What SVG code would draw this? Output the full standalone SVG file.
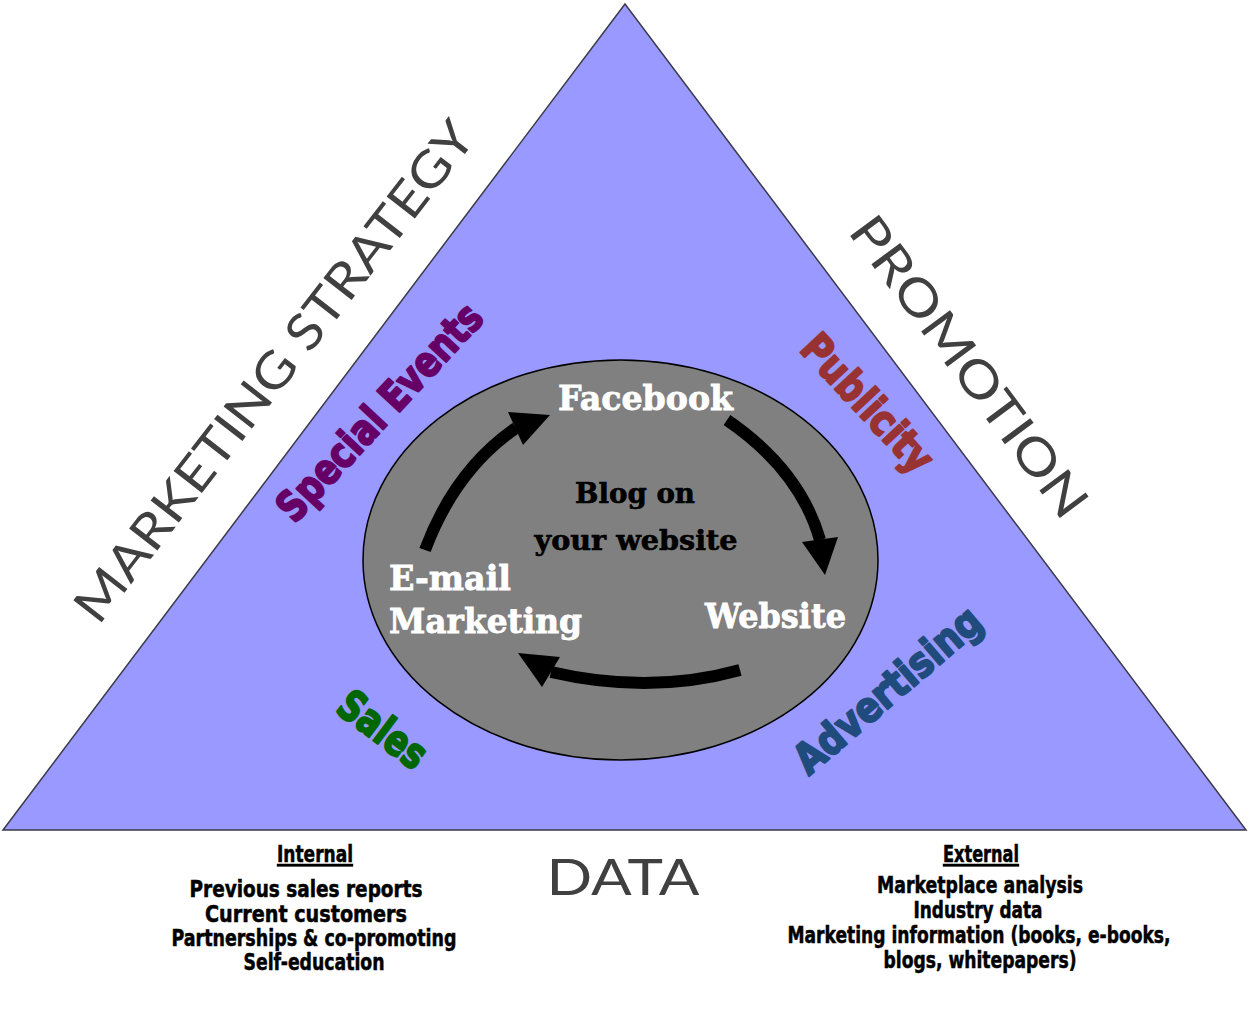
<svg xmlns="http://www.w3.org/2000/svg" width="1250" height="1015" viewBox="0 0 1250 1015">
<style>
.title{font-family:"Lato","Open Sans","DejaVu Sans",sans-serif;font-size:50px;fill:#404040;text-anchor:middle}
.slab{font-family:"DejaVu Serif","Liberation Serif",serif;font-weight:bold}
.white{fill:#ffffff;stroke:#ffffff;stroke-width:0.8;font-size:33px}
.blog{fill:#000000;stroke:#000000;stroke-width:0.6;font-size:27px;text-anchor:middle}
.heavy{font-family:"DejaVu Sans","Liberation Sans",sans-serif;font-weight:900;font-size:42px;text-anchor:middle;stroke-width:2.2;stroke-linejoin:round}
.info{font-family:"Liberation Sans Narrow","DejaVu Sans Condensed","Liberation Sans",sans-serif;font-weight:bold;font-size:23px;fill:#000;stroke:#000;stroke-width:0.5;text-anchor:middle}
.shaft{fill:none;stroke:#000;stroke-width:12}
.head{fill:#000}
</style>
<rect width="1250" height="1015" fill="#ffffff"/>
<g id="triangle">
<polygon points="625,4 3,830 1246,830" fill="#9999ff" stroke="#3a3a4a" stroke-width="1.5"/>
</g>
<g id="marketing-strategy"><text class="title" x="288" y="382" textLength="618" lengthAdjust="spacingAndGlyphs" transform="rotate(-52.2 288 382)">MARKETING STRATEGY</text></g>
<g id="promotion"><text class="title" x="955" y="377" textLength="362" lengthAdjust="spacingAndGlyphs" transform="rotate(53.4 955 377)">PROMOTION</text></g>
<g id="data"><text class="title" x="623" y="895" textLength="153" lengthAdjust="spacingAndGlyphs">DATA</text></g>
<g id="hub">
<ellipse cx="620.5" cy="560" rx="257.5" ry="200" fill="#808080" stroke="#000" stroke-width="1.5"/>
<text class="slab blog" x="635" y="503" textLength="120" lengthAdjust="spacingAndGlyphs">Blog on</text>
<text class="slab blog" x="636" y="550" textLength="203" lengthAdjust="spacingAndGlyphs">your website</text>
</g>
<g id="facebook"><text class="slab white" x="558" y="410" textLength="175" lengthAdjust="spacingAndGlyphs">Facebook</text></g>
<g id="website"><text class="slab white" x="705" y="628" textLength="141" lengthAdjust="spacingAndGlyphs">Website</text></g>
<g id="email-marketing">
<text class="slab white" x="389" y="590" textLength="122" lengthAdjust="spacingAndGlyphs">E-mail</text>
<text class="slab white" x="389" y="633" textLength="193" lengthAdjust="spacingAndGlyphs">Marketing</text>
</g>
<g id="connectors">
<path class="shaft" d="M425,550 Q455,470 516,428"/>
<polygon class="head" points="508,412 550,415 523,445"/>
<path class="shaft" d="M727,420 Q800,470 820,540"/>
<polygon class="head" points="802,542 838,537 825,575"/>
<path class="shaft" d="M740,670 Q650,695 551,672"/>
<polygon class="head" points="518,653 560,657 542,687"/>
</g>
<g id="special-events"><text class="heavy" fill="#660066" stroke="#660066" x="390" y="422" textLength="280" lengthAdjust="spacingAndGlyphs" transform="rotate(-47 390 422)">Special Events</text></g>
<g id="publicity"><text class="heavy" fill="#993333" stroke="#993333" x="857" y="413" textLength="172" lengthAdjust="spacingAndGlyphs" transform="rotate(47 857 413)">Publicity</text></g>
<g id="advertising"><text class="heavy" fill="#1f4b7d" stroke="#1f4b7d" x="897" y="701" textLength="232" lengthAdjust="spacingAndGlyphs" transform="rotate(-40.5 897 701)">Advertising</text></g>
<g id="sales"><text class="heavy" fill="#006600" stroke="#006600" x="374" y="741" textLength="100" lengthAdjust="spacingAndGlyphs" transform="rotate(37 374 741)">Sales</text></g>
<g id="internal">
<text class="info" x="315" y="862" textLength="76" lengthAdjust="spacingAndGlyphs" text-decoration="underline">Internal</text>
<text class="info" x="306" y="897" textLength="233" lengthAdjust="spacingAndGlyphs">Previous sales reports</text>
<text class="info" x="306" y="922" textLength="202" lengthAdjust="spacingAndGlyphs">Current customers</text>
<text class="info" x="314" y="946" textLength="285" lengthAdjust="spacingAndGlyphs">Partnerships &amp; co-promoting</text>
<text class="info" x="314" y="970" textLength="141" lengthAdjust="spacingAndGlyphs">Self-education</text>
</g>
<g id="external">
<text class="info" x="981" y="862" textLength="76" lengthAdjust="spacingAndGlyphs" text-decoration="underline">External</text>
<text class="info" x="980" y="893" textLength="206" lengthAdjust="spacingAndGlyphs">Marketplace analysis</text>
<text class="info" x="978" y="918" textLength="129" lengthAdjust="spacingAndGlyphs">Industry data</text>
<text class="info" x="979" y="943" textLength="383" lengthAdjust="spacingAndGlyphs">Marketing information (books, e-books,</text>
<text class="info" x="980" y="968" textLength="193" lengthAdjust="spacingAndGlyphs">blogs, whitepapers)</text>
</g>
</svg>
